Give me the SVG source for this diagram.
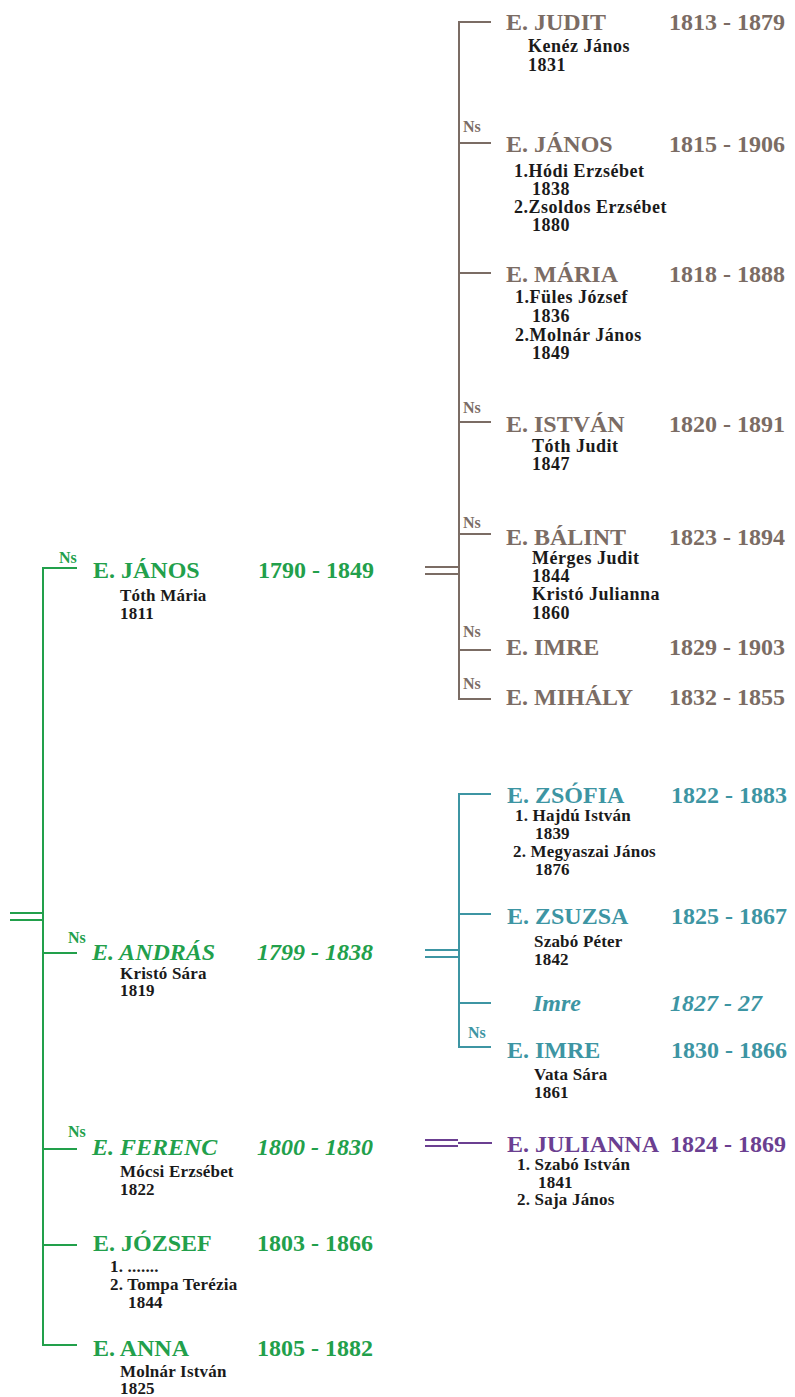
<svg xmlns="http://www.w3.org/2000/svg" width="795" height="1397" viewBox="0 0 795 1397">
<style>
text{font-family:"Liberation Serif","Times New Roman",serif;font-weight:bold}
.nm{font-size:24px}
.it{font-style:italic}
.sp{font-size:17px;fill:#1a1a1a;letter-spacing:0.2px}
.spb{font-size:18px;fill:#1a1a1a;letter-spacing:0.5px}
.ns{font-size:16px}
.g{fill:#22a04b}.b{fill:#7b6c64}.t{fill:#3d95a3}.p{fill:#6b3f91}
.lg{stroke:#22a04b}.lb{stroke:#7b6c64}.lt{stroke:#3d95a3}.lp{stroke:#6b3f91}
line,path{stroke-width:2;fill:none}
</style>
<rect width="795" height="1397" fill="#ffffff"/>
<g id="connectors">
  <!-- green -->
  <line class="lg" x1="10" y1="913" x2="43" y2="913"/>
  <line class="lg" x1="10" y1="920" x2="43" y2="920"/>
  <path class="lg" d="M77 568 H43 V1345 H77"/>
  <line class="lg" x1="43" y1="953" x2="77" y2="953"/>
  <line class="lg" x1="43" y1="1149" x2="77" y2="1149"/>
  <line class="lg" x1="43" y1="1245" x2="77" y2="1245"/>
  <!-- brown -->
  <line class="lb" x1="425" y1="567" x2="459" y2="567"/>
  <line class="lb" x1="425" y1="574" x2="459" y2="574"/>
  <path class="lb" d="M491 22 H459 V699 H491"/>
  <line class="lb" x1="459" y1="143" x2="491" y2="143"/>
  <line class="lb" x1="459" y1="273" x2="491" y2="273"/>
  <line class="lb" x1="459" y1="422" x2="491" y2="422"/>
  <line class="lb" x1="459" y1="534" x2="491" y2="534"/>
  <line class="lb" x1="459" y1="650" x2="491" y2="650"/>
  <!-- teal -->
  <line class="lt" x1="425" y1="950" x2="459" y2="950"/>
  <line class="lt" x1="425" y1="957" x2="459" y2="957"/>
  <path class="lt" d="M491 794 H459 V1047 H491"/>
  <line class="lt" x1="459" y1="914" x2="491" y2="914"/>
  <line class="lt" x1="459" y1="1003" x2="491" y2="1003"/>
  <!-- purple -->
  <line class="lp" x1="425" y1="1140" x2="458" y2="1140"/>
  <line class="lp" x1="425" y1="1146" x2="458" y2="1146"/>
  <line class="lp" x1="458" y1="1143" x2="492" y2="1143"/>
</g>

<!-- green generation -->
<g id="n-janos-1790">
  <text class="ns g" x="59" y="563">Ns</text>
  <text class="nm g" x="93" y="578">E. JÁNOS</text>
  <text class="nm g" x="258" y="578">1790 - 1849</text>
  <text class="sp" x="120" y="601">Tóth Mária</text>
  <text class="sp" x="120" y="619">1811</text>
</g>
<g id="n-andras">
  <text class="ns g" x="68" y="943">Ns</text>
  <text class="nm g it" x="92" y="960">E. ANDRÁS</text>
  <text class="nm g it" x="257" y="960">1799 - 1838</text>
  <text class="sp" x="120" y="979">Kristó Sára</text>
  <text class="sp" x="120" y="996">1819</text>
</g>
<g id="n-ferenc">
  <text class="ns g" x="68" y="1137">Ns</text>
  <text class="nm g it" x="92" y="1155">E. FERENC</text>
  <text class="nm g it" x="257" y="1155">1800 - 1830</text>
  <text class="sp" x="120" y="1177">Mócsi Erzsébet</text>
  <text class="sp" x="120" y="1195">1822</text>
</g>
<g id="n-jozsef">
  <text class="nm g" x="93" y="1251">E. JÓZSEF</text>
  <text class="nm g" x="257" y="1251">1803 - 1866</text>
  <text class="sp" x="110" y="1272">1. .......</text>
  <text class="sp" x="110" y="1290">2. Tompa Terézia</text>
  <text class="sp" x="128" y="1308">1844</text>
</g>
<g id="n-anna">
  <text class="nm g" x="93" y="1356">E. ANNA</text>
  <text class="nm g" x="257" y="1356">1805 - 1882</text>
  <text class="sp" x="120" y="1377">Molnár István</text>
  <text class="sp" x="120" y="1394">1825</text>
</g>

<!-- brown generation -->
<g id="n-judit">
  <text class="nm b" x="506" y="30">E. JUDIT</text>
  <text class="nm b" x="669" y="30">1813 - 1879</text>
  <text class="spb" x="528" y="52">Kenéz János</text>
  <text class="spb" x="528" y="71">1831</text>
</g>
<g id="n-janos-1815">
  <text class="ns b" x="463" y="132">Ns</text>
  <text class="nm b" x="506" y="152">E. JÁNOS</text>
  <text class="nm b" x="669" y="152">1815 - 1906</text>
  <text class="spb" x="514" y="177">1.Hódi Erzsébet</text>
  <text class="spb" x="532" y="195">1838</text>
  <text class="spb" x="514" y="213">2.Zsoldos Erzsébet</text>
  <text class="spb" x="532" y="231">1880</text>
</g>
<g id="n-maria">
  <text class="nm b" x="506" y="282">E. MÁRIA</text>
  <text class="nm b" x="669" y="282">1818 - 1888</text>
  <text class="spb" x="515" y="303">1.Füles József</text>
  <text class="spb" x="532" y="322">1836</text>
  <text class="spb" x="515" y="341">2.Molnár János</text>
  <text class="spb" x="532" y="359">1849</text>
</g>
<g id="n-istvan">
  <text class="ns b" x="463" y="413">Ns</text>
  <text class="nm b" x="506" y="432">E. ISTVÁN</text>
  <text class="nm b" x="669" y="432">1820 - 1891</text>
  <text class="spb" x="532" y="452">Tóth Judit</text>
  <text class="spb" x="532" y="470">1847</text>
</g>
<g id="n-balint">
  <text class="ns b" x="463" y="528">Ns</text>
  <text class="nm b" x="506" y="545">E. BÁLINT</text>
  <text class="nm b" x="669" y="545">1823 - 1894</text>
  <text class="spb" x="532" y="564">Mérges Judit</text>
  <text class="spb" x="532" y="582">1844</text>
  <text class="spb" x="532" y="600">Kristó Julianna</text>
  <text class="spb" x="532" y="619">1860</text>
</g>
<g id="n-imre-1829">
  <text class="ns b" x="463" y="637">Ns</text>
  <text class="nm b" x="506" y="655">E. IMRE</text>
  <text class="nm b" x="669" y="655">1829 - 1903</text>
</g>
<g id="n-mihaly">
  <text class="ns b" x="463" y="689">Ns</text>
  <text class="nm b" x="506" y="705">E. MIHÁLY</text>
  <text class="nm b" x="669" y="705">1832 - 1855</text>
</g>

<!-- teal generation -->
<g id="n-zsofia">
  <text class="nm t" x="507" y="803">E. ZSÓFIA</text>
  <text class="nm t" x="671" y="803">1822 - 1883</text>
  <text class="sp" x="515" y="821">1. Hajdú István</text>
  <text class="sp" x="535" y="839">1839</text>
  <text class="sp" x="513" y="857">2. Megyaszai János</text>
  <text class="sp" x="535" y="875">1876</text>
</g>
<g id="n-zsuzsa">
  <text class="nm t" x="507" y="924">E. ZSUZSA</text>
  <text class="nm t" x="671" y="924">1825 - 1867</text>
  <text class="sp" x="534" y="947">Szabó Péter</text>
  <text class="sp" x="534" y="965">1842</text>
</g>
<g id="n-imre-1827">
  <text class="nm t it" x="533" y="1011">Imre</text>
  <text class="nm t it" x="670" y="1011">1827 - 27</text>
</g>
<g id="n-imre-1830">
  <text class="ns t" x="468" y="1038">Ns</text>
  <text class="nm t" x="507" y="1058">E. IMRE</text>
  <text class="nm t" x="671" y="1058">1830 - 1866</text>
  <text class="sp" x="534" y="1080">Vata Sára</text>
  <text class="sp" x="534" y="1098">1861</text>
</g>

<!-- purple generation -->
<g id="n-julianna">
  <text class="nm p" x="507" y="1152">E. JULIANNA</text>
  <text class="nm p" x="670" y="1152">1824 - 1869</text>
  <text class="sp" x="517" y="1170">1. Szabó István</text>
  <text class="sp" x="538" y="1188">1841</text>
  <text class="sp" x="517" y="1205">2. Saja János</text>
</g>
</svg>
